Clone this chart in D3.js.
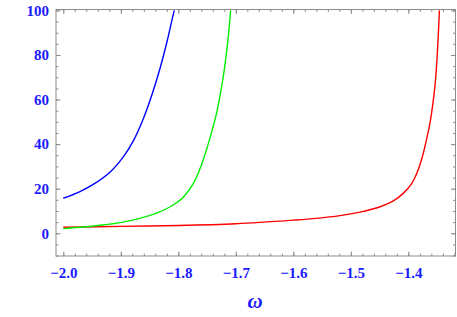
<!DOCTYPE html>
<html>
<head>
<meta charset="utf-8">
<script src="https://cdn.jsdelivr.net/npm/d3@7"></script>
<style>
  body { margin: 0; background: #fff; }
  .tick text { font-family: "Liberation Serif", "DejaVu Serif", serif; font-weight: bold; font-size: 15px; fill: #1a1aff; }
</style>
</head>
<body>
<div id="chart"></div>
<script>
// blue curve
const blueW = [-2.0, -1.971, -1.948, -1.919, -1.896, -1.878, -1.861, -1.846, -1.832, -1.820, -1.809, -1.807];
const blueV = [15.7, 18.7, 21.9, 27.4, 34.2, 41.6, 51.3, 62.0, 73.8, 85.6, 98.0, 100];
// green curve
const greenW = [-2.0, -1.971, -1.936, -1.901, -1.867, -1.838, -1.814, -1.802, -1.791, -1.774, -1.763, -1.751, -1.742, -1.733, -1.722, -1.714, -1.709];
const greenV = [2.1, 2.7, 3.6, 4.8, 6.7, 9.0, 11.9, 13.9, 16.3, 22.3, 28.5, 37.5, 45.5, 54.5, 70.0, 86.0, 100];
// red curve
const redW = [-2.0, -1.9, -1.8, -1.7, -1.6, -1.56, -1.519, -1.484, -1.449, -1.426, -1.409, -1.394, -1.383, -1.374, -1.368, -1.362, -1.3536, -1.3496, -1.346];
const redV = [2.7, 3.1, 3.5, 4.3, 5.9, 6.7, 7.9, 9.5, 11.9, 14.5, 17.9, 22.4, 28.4, 35.9, 42.5, 50.0, 66.5, 80.7, 100];

const xTicks = [-2.0, -1.9, -1.8, -1.7, -1.6, -1.5, -1.4];
const yTicks = [0, 20, 40, 60, 80, 100];

(function () {
    const W = 457, H = 317;
    const svg = d3.select('#chart')
        .append('svg')
        .attr('width', W)
        .attr('height', H);

    const x = d3.scaleLinear()
        .domain([-2.0127, -1.318])
        .range([56, 455.5]);

    const y = d3.scaleLinear()
        .domain([-10.2, 100.4])
        .range([256, 9.5]);

    const fmt = d => (d < 0 ? '\u2212' : '') + Math.abs(d).toFixed(1);

    const xMinor = d3.range(0, 35).map(i => -2.0 + i * 0.02);
    const yMinor = d3.range(-10, 101, 5);

    const axisColor = '#8c8c8c';

    function styleAxis(g) {
        g.select('.domain').remove();
        g.selectAll('.tick line').attr('stroke', axisColor);
    }

    // bottom
    svg.append('g').attr('transform', 'translate(0,256)')
        .call(d3.axisBottom(x).tickValues(xMinor).tickSize(-2.5).tickFormat(''))
        .call(styleAxis);
    svg.append('g').attr('transform', 'translate(0,256)')
        .call(d3.axisBottom(x).tickValues(xTicks).tickSize(-4.5).tickPadding(11).tickFormat(fmt))
        .call(styleAxis);
    // top
    svg.append('g').attr('transform', 'translate(0,9.5)')
        .call(d3.axisTop(x).tickValues(xMinor).tickSize(-2.5).tickFormat(''))
        .call(styleAxis);
    svg.append('g').attr('transform', 'translate(0,9.5)')
        .call(d3.axisTop(x).tickValues(xTicks).tickSize(-4.5).tickFormat(''))
        .call(styleAxis);
    // left
    svg.append('g').attr('transform', 'translate(56,0)')
        .call(d3.axisLeft(y).tickValues(yMinor).tickSize(-2.5).tickFormat(''))
        .call(styleAxis);
    svg.append('g').attr('transform', 'translate(56,0)')
        .call(d3.axisLeft(y).tickValues(yTicks).tickSize(-4.5).tickPadding(7).tickFormat(d3.format('d')))
        .call(styleAxis);
    // right
    svg.append('g').attr('transform', 'translate(455.5,0)')
        .call(d3.axisRight(y).tickValues(yMinor).tickSize(-2.5).tickFormat(''))
        .call(styleAxis);
    svg.append('g').attr('transform', 'translate(455.5,0)')
        .call(d3.axisRight(y).tickValues(yTicks).tickSize(-4.5).tickFormat(''))
        .call(styleAxis);

    // frame
    svg.append('rect')
        .attr('x', x.range()[0])
        .attr('y', y.range()[1])
        .attr('width', x.range()[1] - x.range()[0])
        .attr('height', y.range()[0] - y.range()[1])
        .attr('fill', 'none')
        .attr('stroke', axisColor)
        .attr('stroke-width', 1);

    svg.append('clipPath').attr('id', 'clip')
        .append('rect')
        .attr('x', x.range()[0])
        .attr('y', y.range()[1])
        .attr('width', x.range()[1] - x.range()[0])
        .attr('height', y.range()[0] - y.range()[1]);

    const line = d3.line()
        .x(d => x(d[0]))
        .y(d => y(d[1]))
        .curve(d3.curveCatmullRom.alpha(0.5));

    const series = [
        { w: redW, v: redV, color: '#ff0000' },
        { w: greenW, v: greenV, color: '#00ee00' },
        { w: blueW, v: blueV, color: '#0000ff' }
    ];

    svg.append('g').attr('clip-path', 'url(#clip)')
        .selectAll('path')
        .data(series)
        .enter()
        .append('path')
        .attr('d', s => line(s.w.map((w, i) => [w, s.v[i]])))
        .attr('fill', 'none')
        .attr('stroke', s => s.color)
        .attr('stroke-width', 1.4);

    // axis label
    svg.append('text')
        .text('\u03c9')
        .attr('x', 255)
        .attr('y', 308)
        .attr('text-anchor', 'middle')
        .style('font-family', '"Liberation Serif", "DejaVu Serif", serif')
        .style('font-style', 'italic')
        .style('font-weight', 'bold')
        .style('font-size', '21px')
        .style('fill', '#1a1aff');
})();
</script>
</body>
</html>
